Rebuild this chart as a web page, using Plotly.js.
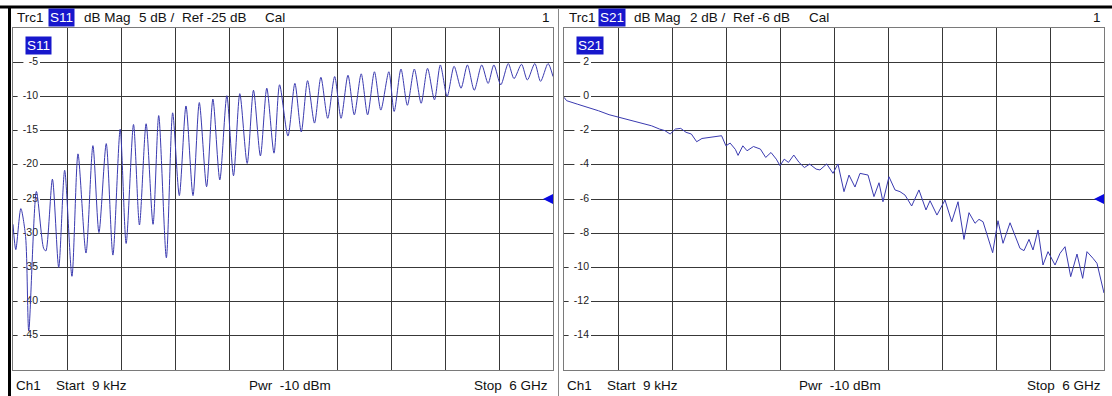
<!DOCTYPE html>
<html><head><meta charset="utf-8">
<script src="https://cdn.plot.ly/plotly-3.0.1.min.js"></script>
<style>html,body{margin:0;padding:0;background:#fff;overflow:hidden}#chart{width:1112px;height:396px}</style>
</head><body><div id="chart"></div>
<script>
// ---- data (GHz, dB) ----
const s11Freq = [0.000,0.031,0.087,0.140,0.175,0.260,0.340,0.365,0.438,0.508,
0.574,0.655,0.722,0.811,0.888,0.955,1.036,1.110,1.191,1.257,
1.339,1.405,1.479,1.556,1.619,1.704,1.774,1.848,1.922,2.000,
2.070,2.151,2.221,2.298,2.376,2.450,2.520,2.602,2.672,2.749,
2.820,2.900,2.962,3.055,3.132,3.203,3.273,3.350,3.421,3.497,
3.574,3.645,3.722,3.792,3.869,3.940,4.016,4.087,4.176,4.235,
4.311,4.382,4.459,4.535,4.606,4.683,4.748,4.824,4.901,4.978,
5.049,5.125,5.208,5.279,5.343,5.420,5.503,5.567,5.650,5.715,
5.798,5.862,5.945,6.000];
const s11Mag = [-28.7,-32.4,-26.4,-30.5,-44.3,-23.9,-32.2,-32.6,-22.1,-35.0,
-20.8,-36.3,-18.4,-32.9,-17.2,-29.9,-16.9,-33.2,-14.8,-31.5,
-14.1,-28.8,-14.0,-28.7,-12.8,-33.6,-12.4,-24.5,-11.4,-24.5,
-10.9,-23.2,-10.4,-22.2,-9.9,-21.6,-9.6,-19.8,-9.1,-18.7,
-8.8,-18.3,-8.3,-15.8,-8.1,-15.2,-7.7,-13.9,-7.2,-13.2,
-7.1,-13.2,-6.9,-12.7,-6.7,-12.7,-6.4,-12.0,-6.4,-12.2,
-6.0,-11.3,-6.0,-11.0,-5.9,-10.5,-5.4,-10.0,-5.6,-8.8,
-5.4,-9.1,-5.4,-8.1,-5.4,-8.3,-5.2,-7.4,-5.3,-7.6,
-5.2,-7.8,-5.2,-7.1];

const s21Freq = [0.000,0.029,0.147,0.265,0.383,0.501,0.619,0.737,0.855,0.973,
1.061,1.120,1.179,1.238,1.297,1.356,1.415,1.474,1.533,1.621,
1.710,1.751,1.799,1.846,1.904,1.934,1.987,2.034,2.105,2.182,
2.241,2.300,2.359,2.400,2.447,2.494,2.553,2.612,2.671,2.730,
2.801,2.844,2.919,2.989,3.044,3.111,3.167,3.233,3.289,3.378,
3.444,3.500,3.544,3.611,3.678,3.733,3.789,3.863,3.944,4.022,
4.067,4.144,4.233,4.308,4.378,4.444,4.500,4.567,4.611,4.656,
4.763,4.822,4.878,4.956,5.067,5.111,5.167,5.211,5.267,5.322,
5.378,5.456,5.511,5.567,5.630,5.700,5.763,5.811,5.878,5.922,
6.000];
const s21Mag = [-0.05,-0.25,-0.45,-0.64,-0.84,-1.07,-1.23,-1.42,-1.56,-1.72,
-1.91,-2.0,-2.2,-1.91,-1.87,-2.1,-2.2,-2.65,-2.46,-2.4,
-2.34,-2.3,-2.89,-2.73,-3.1,-3.45,-2.89,-3.18,-2.93,-3.08,
-3.57,-3.28,-3.67,-4.05,-3.67,-3.86,-3.43,-3.86,-4.16,-3.96,
-4.25,-4.30,-3.95,-4.5,-3.95,-5.57,-4.6,-5.3,-4.5,-4.6,
-5.86,-5.05,-6.16,-4.7,-5.47,-5.57,-5.77,-6.41,-5.47,-6.64,
-6.1,-6.94,-6.06,-7.33,-6.16,-8.36,-6.8,-7.42,-7.19,-7.33,
-9.14,-7.27,-8.59,-7.39,-8.89,-9.02,-8.36,-8.98,-7.81,-9.86,
-9.08,-9.86,-9.18,-8.79,-10.54,-9.22,-10.64,-9.08,-9.47,-9.76,
-11.5];

const s11Ticks = [-5,-10,-15,-20,-25,-30,-35,-40,-45];
const s21Ticks = [2,0,-2,-4,-6,-8,-10,-12,-14];
const s11Range = [-50, 0], s21Range = [-16, 4];
const s11Div = 5, s21Div = 2;
const s11Ref = -25, s21Ref = -6;
const freqRange = [0, 6];

const header1 = ['Trc1', 'S11', 'dB Mag', '5 dB /', 'Ref -25 dB', 'Cal'];
const header2 = ['Trc1', 'S21', 'dB Mag', '2 dB /', 'Ref -6 dB', 'Cal'];
const footer = ['Ch1', 'Start\u00a0\u00a09 kHz', 'Pwr\u00a0 -10 dBm', 'Stop\u00a0 6 GHz'];

// ---- layout geometry ----
const W = 1112, H = 396;
const FONT = 'Liberation Sans, Arial, sans-serif';
const TRACE = '#3a3ab0';
const GRID = '#383838';
const HILITE = '#1717cc';
const fx = p => p / W, fy = p => 1 - p / H;
const plotL = [13, 553], plotR = [564, 1104], plotY = [28, 370];
const pxPerGHz = (plotL[1] - plotL[0]) / (freqRange[1] - freqRange[0]);
const labelX = 25 / pxPerGHz;

function axisX(domain) {
  return {domain: domain.map(fx), range: freqRange, dtick: 0.6, tick0: 0,
    showgrid: true, gridcolor: GRID, gridwidth: 1, zeroline: false,
    showticklabels: false, ticks: '', showline: true, mirror: true,
    linecolor: '#7a7a7a', linewidth: 1, fixedrange: true};
}
function axisY(range, div) {
  return {domain: [fy(plotY[1]), fy(plotY[0])], range: range, dtick: div, tick0: 0,
    showgrid: true, gridcolor: GRID, gridwidth: 1, zeroline: false,
    showticklabels: false, ticks: '', showline: true, mirror: true,
    linecolor: '#7a7a7a', linewidth: 1, fixedrange: true};
}

function tickTrace(ticks, xa, ya) {
  return {x: ticks.map(() => labelX), y: ticks, text: ticks.map(String),
    mode: 'text', textposition: 'middle left', cliponaxis: false,
    textfont: {family: FONT, size: 10.5, color: '#222'}, hoverinfo: 'skip',
    xaxis: xa, yaxis: ya, showlegend: false};
}
function tickShapes(ticks, xr, yr) {
  return ticks.map(t => ({type: 'rect', xref: xr, yref: yr, xsizemode: 'pixel', ysizemode: 'pixel',
    xanchor: labelX, yanchor: t, x0: -(String(t).length * 5.8 + 3), x1: 2, y0: -6, y1: 6,
    fillcolor: '#fff', line: {width: 0}, layer: 'between'}));
}
function refMarker(ref, xr, yr) {
  return {type: 'path', xref: xr, yref: yr, xsizemode: 'pixel', ysizemode: 'pixel',
    xanchor: freqRange[1], yanchor: ref, path: 'M -10 0 L 2 6 L 2 -6 Z',
    fillcolor: '#0a0ae0', line: {width: 0}, layer: 'above'};
}

const data = [
  tickTrace(s11Ticks, 'x', 'y'),
  {x: s11Freq, y: s11Mag, mode: 'lines', line: {color: TRACE, width: 1, shape: 'spline', smoothing: 0.75},
   xaxis: 'x', yaxis: 'y', hoverinfo: 'skip', showlegend: false},
  tickTrace(s21Ticks, 'x2', 'y2'),
  {x: s21Freq, y: s21Mag, mode: 'lines', line: {color: TRACE, width: 1},
   xaxis: 'x2', yaxis: 'y2', hoverinfo: 'skip', showlegend: false}
];

function txt(text, x, y, anchor, opts) {
  return Object.assign({text: text, xref: 'paper', yref: 'paper', x: fx(x), y: fy(y),
    xanchor: anchor, yanchor: 'middle', showarrow: false,
    font: {family: FONT, size: 13.5, color: '#111'}, borderpad: 1}, opts || {});
}
const hl = {bgcolor: HILITE, font: {family: FONT, size: 13.5, color: '#fff'}};

const hx1 = [15, 48, 82, 137, 180, 263];
const hx2 = [567, 598, 632, 688, 731, 807];
const ann = [];
header1.forEach((t, i) => ann.push(txt(t, hx1[i], 17, 'left', i === 1 ? hl : null)));
header2.forEach((t, i) => ann.push(txt(t, hx2[i], 17, 'left', i === 1 ? hl : null)));
ann.push(txt('1', 552, 17, 'right'));
ann.push(txt('1', 1103, 17, 'right'));
ann.push(txt(header1[1], 25, 45.5, 'left', hl));
ann.push(txt(header2[1], 576, 45.5, 'left', hl));
[[14, 54, 247, 550], [565, 605, 797, 1103]].forEach(xs => {
  ann.push(txt(footer[0], xs[0], 385, 'left'));
  ann.push(txt(footer[1], xs[1], 385, 'left'));
  ann.push(txt(footer[2], xs[2], 385, 'left'));
  ann.push(txt(footer[3], xs[3], 385, 'right'));
});

const frame = [
  {type: 'line', xref: 'paper', yref: 'paper', x0: 0, x1: 1, y0: fy(7), y1: fy(7), line: {color: '#000', width: 3}},
  {type: 'line', xref: 'paper', yref: 'paper', x0: fx(9.5), x1: fx(9.5), y0: fy(6), y1: 0, line: {color: '#000', width: 3}},
  {type: 'line', xref: 'paper', yref: 'paper', x0: fx(558.5), x1: fx(558.5), y0: fy(8.5), y1: 0, line: {color: '#888', width: 1}}
];

const layout = {
  width: W, height: H, margin: {l: 0, r: 0, t: 0, b: 0},
  paper_bgcolor: '#fff', plot_bgcolor: '#fff', showlegend: false,
  xaxis: Object.assign(axisX(plotL), {anchor: 'y'}),
  yaxis: Object.assign(axisY(s11Range, s11Div), {anchor: 'x'}),
  xaxis2: Object.assign(axisX(plotR), {anchor: 'y2'}),
  yaxis2: Object.assign(axisY(s21Range, s21Div), {anchor: 'x2'}),
  shapes: frame.concat(tickShapes(s11Ticks, 'x', 'y'), tickShapes(s21Ticks, 'x2', 'y2'),
    [refMarker(s11Ref, 'x', 'y'), refMarker(s21Ref, 'x2', 'y2')]),
  annotations: ann
};

Plotly.newPlot('chart', data, layout, {staticPlot: true, displayModeBar: false});
</script>
</body></html>
